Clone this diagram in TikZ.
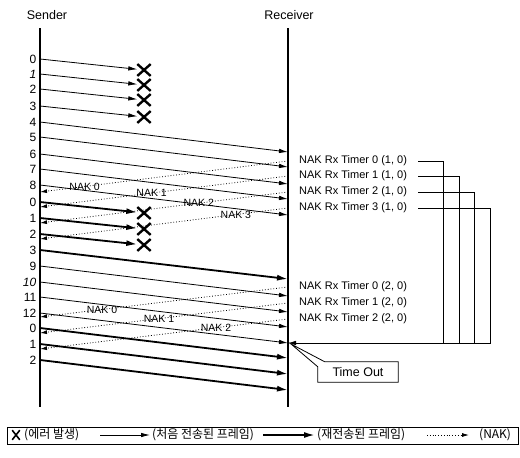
\documentclass[tikz,border=0pt]{standalone}
\usepackage{fontspec}
\setmainfont{Liberation Sans}
\newfontfamily\krfont{Noto Sans CJK KR}
\usetikzlibrary{arrows.meta,positioning,shapes.misc}

\begin{document}
\begin{tikzpicture}[
    x=1pt, y=-1pt,
    font=\fontsize{11}{13}\selectfont,
    head/.style={font=\fontsize{12.5}{14}\selectfont},
    num/.style={anchor=east, inner xsep=3.5pt, inner ysep=0pt, font=\fontsize{12}{13}\selectfont},
    timer/.style={anchor=west, inner xsep=11pt, inner ysep=0pt},
    naklabel/.style={font=\fontsize{10.5}{12}\selectfont, inner sep=1pt},
    legtext/.style={anchor=west, font=\krfont\fontsize{12}{13}\selectfont, inner sep=2pt},
    xmark/.style={cross out, draw, line width=2.4pt, minimum width=11pt, minimum height=9.5pt, inner sep=0pt},
    sendarrow/.style={-{Latex[length=9pt,width=4.5pt]}, line width=0.8pt},
    resendarrow/.style={-{Latex[length=11pt,width=6pt]}, line width=1.8pt},
    nakarrow/.style={-{Latex[length=7pt,width=4pt]}, dotted, line width=0.8pt},
    wire/.style={line width=0.8pt},
    axis/.style={line width=1.1pt}
]
\useasboundingbox (0,0) rectangle (520,458);

% Headings and time lines
\node[head] (sender) at (47,15) {Sender};
\node[head] (receiver) at (289,15) {Receiver};
\coordinate (stop) at (40,28);
\coordinate (sbot) at (40,407);
\coordinate (rtop) at (288,28);
\coordinate (rbot) at (288,407);
\draw[axis] (stop) -- (sbot);
\draw[axis] (rtop) -- (rbot);

% Frame numbers at the sender
\node[num] (s0) at (40,59) {0};
\node[num] (s1) at (40,74) {\itshape 1};
\node[num] (s2) at (40,89) {2};
\node[num] (s3) at (40,106) {3};
\node[num] (s4) at (40,122) {4};
\node[num] (s5) at (40,137) {5};
\node[num] (s6) at (40,154) {6};
\node[num] (s7) at (40,169) {7};
\node[num] (s8) at (40,185) {8};
\node[num] (s0b) at (40,202) {0};
\node[num] (s1b) at (40,218) {1};
\node[num] (s2b) at (40,234) {2};
\node[num] (s3b) at (40,250) {3};
\node[num] (s9) at (40,266) {9};
\node[num] (s10) at (40,282) {\itshape 10};
\node[num] (s11) at (40,297) {11};
\node[num] (s12) at (40,313) {12};
\node[num] (s0c) at (40,328) {0};
\node[num] (s1c) at (40,344) {1};
\node[num] (s2c) at (40,360) {2};

% Lost frames
\node[xmark] (x0) at (144,70) {};
\node[xmark] (x1) at (144,85) {};
\node[xmark] (x2) at (144,100) {};
\node[xmark] (x3) at (144,117) {};
\node[xmark] (x0b) at (144,213) {};
\node[xmark] (x1b) at (144,229) {};
\node[xmark] (x2b) at (144,245) {};

% Arrival points at the receiver
\coordinate (r4) at (288,152);
\coordinate (r5) at (288,167);
\coordinate (r6) at (288,184);
\coordinate (r7) at (288,199);
\coordinate (r8) at (288,215);
\coordinate (r3b) at (288,279);
\coordinate (r9) at (288,296);
\coordinate (r10) at (288,312);
\coordinate (r11) at (288,327);
\coordinate (r12) at (288,343);
\coordinate (r0c) at (288,358);
\coordinate (r1c) at (288,374);
\coordinate (r2c) at (288,390);

% Receiver timers
\node[timer] (t0) at (288,161) {NAK Rx Timer 0 (1, 0)};
\node[timer] (t1) at (288,176) {NAK Rx Timer 1 (1, 0)};
\node[timer] (t2) at (288,192) {NAK Rx Timer 2 (1, 0)};
\node[timer] (t3) at (288,208) {NAK Rx Timer 3 (1, 0)};
\node[timer] (u0) at (288,287) {NAK Rx Timer 0 (2, 0)};
\node[timer] (u1) at (288,303) {NAK Rx Timer 1 (2, 0)};
\node[timer] (u2) at (288,319) {NAK Rx Timer 2 (2, 0)};

% NAK arrival points at the sender
\coordinate (k0) at (40,192);
\coordinate (k1) at (40,207);
\coordinate (k2) at (40,223);
\coordinate (k3) at (40,239);
\coordinate (k0b) at (40,317);
\coordinate (k1b) at (40,333);
\coordinate (k2b) at (40,349);

% First transmissions
\draw[sendarrow] (s0.east) -- (x0);
\draw[sendarrow] (s1.east) -- (x1);
\draw[sendarrow] (s2.east) -- (x2);
\draw[sendarrow] (s3.east) -- (x3);
\draw[sendarrow] (s4.east) -- (r4);
\draw[sendarrow] (s5.east) -- (r5);
\draw[sendarrow] (s6.east) -- (r6);
\draw[sendarrow] (s7.east) -- (r7);
\draw[sendarrow] (s8.east) -- (r8);
\draw[sendarrow] (s9.east) -- (r9);
\draw[sendarrow] (s10.east) -- (r10);
\draw[sendarrow] (s11.east) -- (r11);
\draw[sendarrow] (s12.east) -- (r12);

% Retransmissions
\draw[resendarrow] (s0b.east) -- (x0b);
\draw[resendarrow] (s1b.east) -- (x1b);
\draw[resendarrow] (s2b.east) -- (x2b);
\draw[resendarrow] (s3b.east) -- (r3b);
\draw[resendarrow] (s0c.east) -- (r0c);
\draw[resendarrow] (s1c.east) -- (r1c);
\draw[resendarrow] (s2c.east) -- (r2c);

% NAKs
\draw[nakarrow] (t0.west) -- node[naklabel, pos=0.82] {NAK 0} (k0);
\draw[nakarrow] (t1.west) -- node[naklabel, pos=0.55] {NAK 1} (k1);
\draw[nakarrow] (t2.west) -- node[naklabel, pos=0.36] {NAK 2} (k2);
\draw[nakarrow] (t3.west) -- node[naklabel, pos=0.21] {NAK 3} (k3);
\draw[nakarrow] (u0.west) -- node[naklabel, pos=0.75] {NAK 0} (k0b);
\draw[nakarrow] (u1.west) -- node[naklabel, pos=0.52] {NAK 1} (k1b);
\draw[nakarrow] (u2.west) -- node[naklabel, pos=0.29] {NAK 2} (k2b);

% Timer expiry
\coordinate (j0) at (443,343);
\coordinate (j1) at (459,343);
\coordinate (j2) at (474,343);
\coordinate (j3) at (490,343);
\draw[wire] (t0.east) -| (j0);
\draw[wire] (t1.east) -| (j1);
\draw[wire] (t2.east) -| (j2);
\draw[wire, -{Latex[length=8pt,width=4.5pt]}] (t3.east) -| (j3) -- (r12);

\node[font=\fontsize{12.5}{14}\selectfont, minimum width=80pt, minimum height=20pt] (timeout) at (358,372) {Time Out};
\coordinate (tmo) at (291,344);
\draw[wire] ([xshift=7pt]timeout.north west) -- (timeout.north east) -- (timeout.south east)
    -- (timeout.south west) -- ([yshift=-5pt]timeout.north west) -- (tmo) -- cycle;

% Legend
\node[draw, line width=0.9pt, minimum width=511pt, minimum height=17pt, inner sep=0pt] (legend) at (262.5,435.5) {};
\node[xmark, line width=1.6pt, minimum width=6pt, minimum height=8pt] (lgx) at (16,435) {};
\node[legtext] (lg1) at (22,435) {(에러 발생)};
\node[legtext] (lg2) at (150,435) {(처음 전송된 프레임)};
\node[legtext] (lg3) at (315,435) {(재전송된 프레임)};
\node[legtext] (lg4) at (477,435) {(NAK)};
\coordinate (la) at (100,435);
\coordinate (lb) at (263,435);
\coordinate (lc) at (427,435);
\draw[sendarrow] (la) -- (lg2.west);
\draw[resendarrow] (lb) -- (lg3.west);
\draw[nakarrow, shorten >=8pt] (lc) -- (lg4.west);

\end{tikzpicture}
\end{document}
